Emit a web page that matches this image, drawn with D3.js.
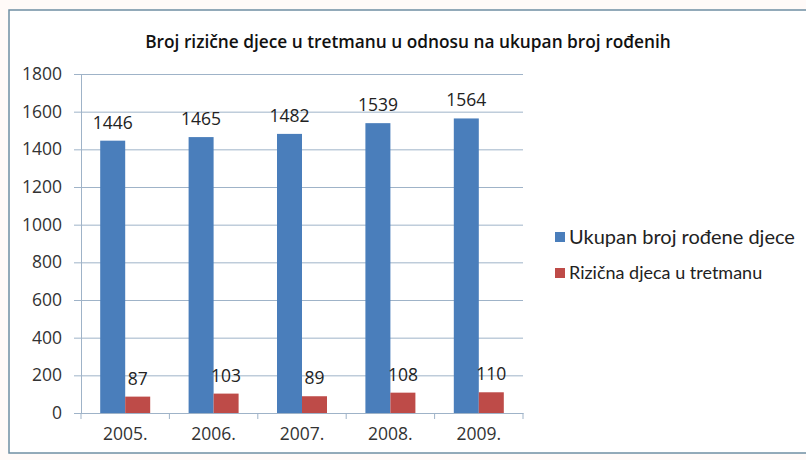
<!DOCTYPE html>
<html>
<head>
<meta charset="utf-8">
<script src="https://cdn.jsdelivr.net/npm/d3@7"></script>
<style>
  body { margin: 0; background: #fffaf8; }
  svg { display: block; }
  .axis path, .axis line { stroke: #9fb3c8; }
  .axis text { fill: #333; font-family: "Open Sans", sans-serif; font-size: 17.5px; }
</style>
</head>
<body>
<svg width="806" height="460"></svg>
<script>
// podaci
var godine = ["2005.", "2006.", "2007.", "2008.", "2009."];
var ukupno = [1446, 1465, 1482, 1539, 1564];
var rizicna = [87, 103, 89, 108, 110];
var serije = ["Ukupan broj rođene djece", "Rizična djeca u tretmanu"];
var boje = ["#4a7ebb", "#be4b48"];
var yTicks = [0, 200, 400, 600, 800, 1000, 1200, 1400, 1600, 1800];

var svg = d3.select("svg"),
    margin = {top: 74, left: 81},
    width = 442,
    height = 339;

// okvir grafikona
svg.append("rect")
    .attr("x", 9).attr("y", 10)
    .attr("width", 805).attr("height", 443)
    .attr("fill", "#fff")
    .attr("stroke", "#6f8fa3")
    .attr("stroke-width", 1.5);

svg.append("text")
    .attr("x", 408).attr("y", 48)
    .attr("text-anchor", "middle")
    .attr("font-family", "Open Sans, sans-serif")
    .attr("font-weight", "600")
    .attr("font-size", "17.3px")
    .attr("fill", "#111")
    .text("Broj rizične djece u tretmanu u odnosu na ukupan broj rođenih");

var x = d3.scaleBand().domain(godine).range([0, width]),
    y = d3.scaleLinear().domain([0, 1800]).range([height, 0]);

var g = svg.append("g")
    .attr("transform", "translate(" + margin.left + "," + margin.top + ")");

// mreža
g.selectAll(".grid")
  .data(yTicks)
  .enter().append("line")
    .attr("x1", 0).attr("x2", width)
    .attr("y1", function(d) { return y(d) + 0.5; })
    .attr("y2", function(d) { return y(d) + 0.5; })
    .attr("stroke", "#9fb3c8");

g.append("g")
    .attr("class", "axis")
    .call(d3.axisLeft(y).tickValues(yTicks).tickFormat(d3.format("d"))
      .tickSize(7).tickPadding(12).tickSizeOuter(0))
    .select(".domain").attr("stroke", "#9fb3c8");

var xAxis = g.append("g")
    .attr("class", "axis")
    .attr("transform", "translate(0," + height + ")")
    .call(d3.axisBottom(x).tickSize(0).tickPadding(15));

// crtice između kategorija
xAxis.selectAll(".sep")
  .data(d3.range(godine.length + 1))
  .enter().append("line")
    .attr("x1", function(i) { return i * x.step(); })
    .attr("x2", function(i) { return i * x.step(); })
    .attr("y1", 0).attr("y2", 6)
    .attr("stroke", "#9fb3c8");

var x1 = d3.scaleBand().domain([0, 1]).range([0, 50]);

var podaci = [ukupno, rizicna];

podaci.forEach(function(vrijednosti, s) {
  g.selectAll(".bar" + s)
    .data(vrijednosti)
    .enter().append("rect")
      .attr("x", function(d, i) { return x(godine[i]) + x.bandwidth() / 2 - 25 + x1(s); })
      .attr("y", function(d) { return y(d); })
      .attr("width", x1.bandwidth())
      .attr("height", function(d) { return height - y(d); })
      .attr("fill", boje[s]);

  g.selectAll(".lab" + s)
    .data(vrijednosti)
    .enter().append("text")
      .attr("x", function(d, i) { return x(godine[i]) + x.bandwidth() / 2 - 25 + x1(s) + x1.bandwidth() / 2; })
      .attr("y", function(d) { return y(d) - 12; })
      .attr("text-anchor", "middle")
      .attr("font-family", "Open Sans, sans-serif")
      .attr("font-size", "17.5px")
      .attr("fill", "#222")
      .text(function(d) { return d; });
});

// legenda
var legenda = svg.append("g");
[{y: 237, size: 20}, {y: 273, size: 18}].forEach(function(l, i) {
  legenda.append("rect")
    .attr("x", 555).attr("y", l.y - 5)
    .attr("width", 10).attr("height", 10)
    .attr("fill", boje[i]);
  legenda.append("text")
    .attr("x", 569).attr("y", l.y)
    .attr("dy", "0.35em")
    .attr("font-family", "Lato, sans-serif")
    .attr("font-size", l.size + "px")
    .attr("fill", "#222")
    .text(serije[i]);
});
</script>
</body>
</html>
